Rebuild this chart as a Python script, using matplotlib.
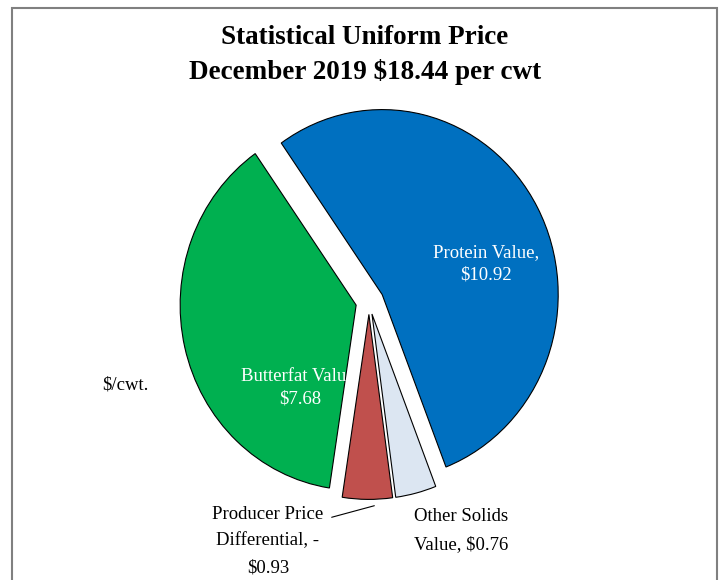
import matplotlib
matplotlib.use('Agg')
import matplotlib.pyplot as plt
from matplotlib.patches import Rectangle

plt.rcParams['font.family'] = ['Liberation Serif', 'DejaVu Serif']

# slices, clockwise from the upper left
labels = ['Protein Value,\n$10.92', 'Other Solids\nValue, $0.76',
          'Producer Price\nDifferential, -\n$0.93', 'Butterfat Value,\n$7.68']
values = [10.92, 0.76, 0.93, 7.68]
colors = ['#0070C0', '#DCE6F2', '#C0504D', '#00B050']
explode = [0.085, 0.067, 0.067, 0.075]  # fraction of radius

title = 'Statistical Uniform Price\nDecember 2019 $18.44 per cwt'
unit_label = '$/cwt.'

W, H = 719, 580
sx = 176 / 185  # picture is a bit squeezed sideways
R = 185

fig = plt.figure(figsize=(W / 100, H / 100), dpi=100)
ax = fig.add_axes([0, 0, 1, 1])


def px(x, y):
    # picture pixel -> data coords
    return x / sx, H - y


wedges, _ = ax.pie(values, explode=[e * R for e in explode], colors=colors,
                   startangle=125, counterclock=False, center=px(369, 302),
                   radius=R, wedgeprops=dict(edgecolor='black', linewidth=0.8))
ax.set_xlim(0, W / sx)
ax.set_ylim(0, H)
ax.set_aspect('auto')
ax.axis('off')

ax.text(*px(486, 264), labels[0], color='white', ha='center', va='center',
        fontsize=13.5, linespacing=1.45)
t = ax.text(*px(300, 388), labels[3], color='white', ha='center', va='center',
            fontsize=13.5, linespacing=1.43)
t.set_clip_path(wedges[3])
ax.text(*px(461, 531), labels[1], color='black', ha='center', va='center',
        fontsize=13.5, linespacing=1.85)
ax.text(*px(268, 541), labels[2], color='black', ha='center', va='center',
        fontsize=13.5, linespacing=1.75)
ax.annotate('', xy=px(377, 505), xytext=px(329, 518),
            arrowprops=dict(arrowstyle='-', color='black', lw=0.8))
ax.text(*px(125, 385), unit_label, color='black', ha='center', va='center',
        fontsize=13.5)

fig.text(365 / W, 1 - 55 / H, title, ha='center', va='center',
         fontsize=19.5, fontweight='bold', linespacing=1.47)

fig.add_artist(Rectangle((12 / W, -0.05), (717 - 12) / W, 1.05 - 8 / H,
                         transform=fig.transFigure, fill=False,
                         edgecolor='#808080', lw=1.5))

fig.savefig('out.png', dpi=100)
